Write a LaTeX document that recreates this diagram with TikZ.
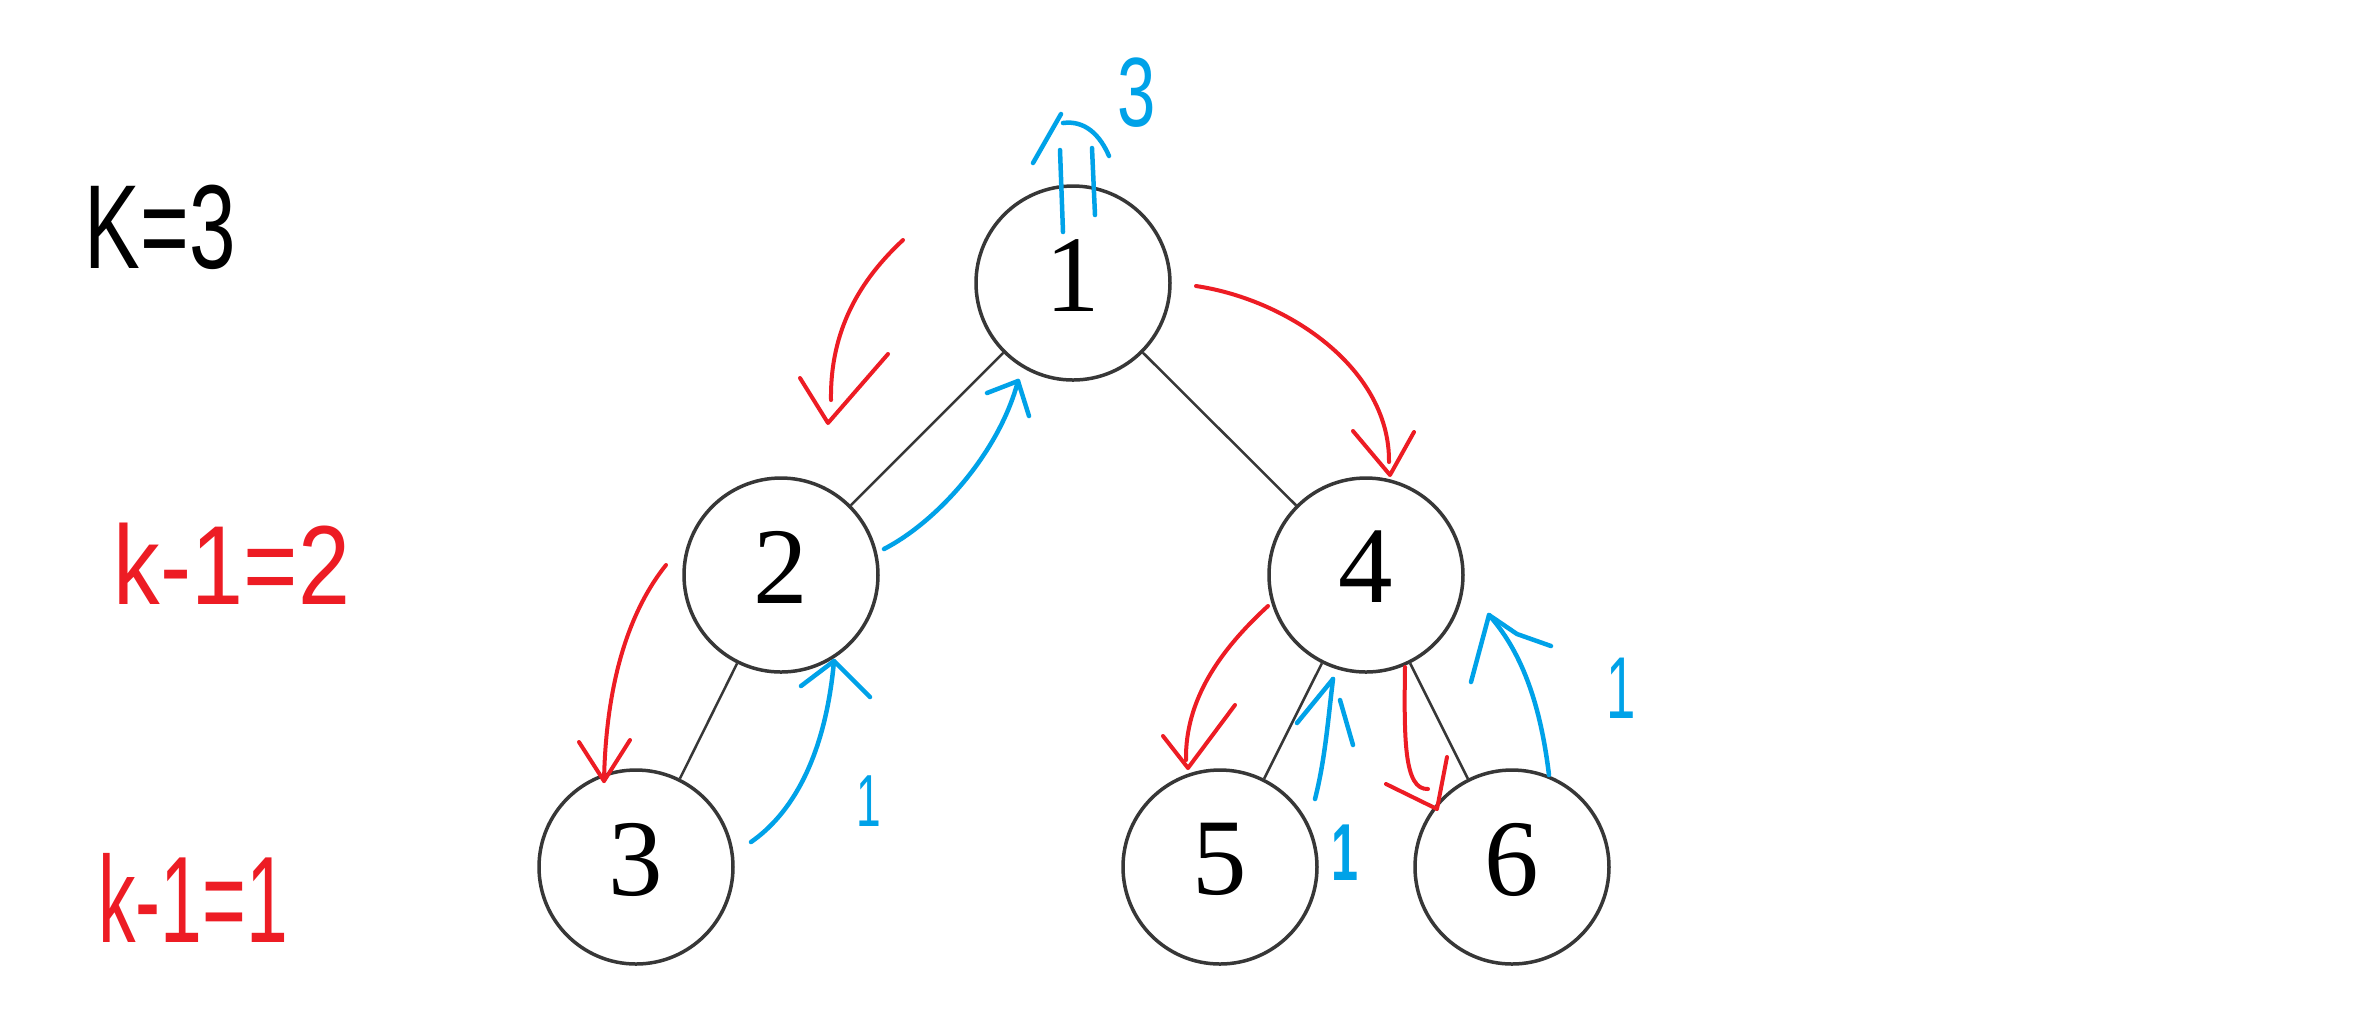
\documentclass[tikz,border=0pt]{standalone}
\usepackage{fontspec}
\setmainfont{Liberation Serif}
\newfontfamily\hand{Liberation Sans}
\definecolor{penred}{RGB}{237,28,36}
\definecolor{penblue}{RGB}{0,162,232}
\definecolor{treegray}{RGB}{55,55,55}
\begin{document}
\begin{tikzpicture}[x=0.1mm,y=-0.1mm,
  tnode/.style={circle,draw=treegray,line width=0.35mm,minimum size=19.4mm,inner sep=0pt,
    font=\fontsize{31}{36}\selectfont,text depth=4.5pt},
  tedge/.style={draw=treegray,line width=0.25mm},
  redpen/.style={draw=penred,line width=0.4mm,line cap=round,line join=round},
  bluepen/.style={draw=penblue,line width=0.45mm,line cap=round,line join=round},
  handtext/.style={inner sep=0pt,font=\hand}
]
\fill[white] (0,0) rectangle (2358,1031);
\useasboundingbox (0,0) rectangle (2358,1031);

% tree
\node[tnode] (n1) at (1073,283) {1};
\node[tnode] (n2) at (781,575) {2};
\node[tnode] (n4) at (1366,575) {4};
\node[tnode] (n3) at (636,867) {3};
\node[tnode] (n5) at (1220,867) {5};
\node[tnode] (n6) at (1512,867) {6};
\draw[tedge] (n1) -- (n2);
\draw[tedge] (n1) -- (n4);
\draw[tedge] (n2) -- (n3);
\draw[tedge] (n4) -- (n5);
\draw[tedge] (n4) -- (n6);

% labels
\node[handtext,text=black,font=\hand\fontsize{34}{40}\selectfont] (lk) at (160,227) {\scalebox{0.7}[1]{K=3}};
\node[handtext,text=penred,font=\hand\fontsize{32}{38}\selectfont] (lk2) at (232,564) {\scalebox{0.83}[1]{k-1=2}};
\node[handtext,text=penred,font=\hand\fontsize{35}{40}\selectfont] (lk1) at (193,898) {\scalebox{0.61}[1]{k-1=1}};
\node[handtext,text=penblue,font=\hand\fontsize{28}{32}\selectfont] (b3) at (1137,93) {\scalebox{0.7}[1]{3}};
\node[handtext,text=penblue,font=\hand\fontsize{21}{26}\selectfont] (b1a) at (869,801) {\scalebox{0.6}[1]{1}};
\node[handtext,text=penblue,font=\hand\bfseries\fontsize{23}{28}\selectfont] (b1b) at (1345,853) {\scalebox{0.6}[1]{1}};
\node[handtext,text=penblue,font=\hand\fontsize{25}{30}\selectfont] (b1c) at (1621,688) {\scalebox{0.6}[1]{1}};

% double arrow above node 1 (blue)
\draw[bluepen] (1060,150) -- (1063,232);
\draw[bluepen] (1092,148) -- (1095,215);
\draw[bluepen] (1033,163) -- (1061,114);
\draw[bluepen] (1063,123) .. controls (1085,120) and (1100,135) .. (1109,156);

% red arrow 1 -> 2
\coordinate (r12s) at (903,240); \coordinate (r12t) at (828,423);
\draw[redpen] (r12s) .. controls (860,280) and (830,330) .. (831,400);
\draw[redpen] (800,378) -- (r12t) -- (888,354);

% blue arrow 2 -> 1
\coordinate (b21s) at (884,549); \coordinate (b21t) at (1018,381);
\draw[bluepen] (b21s) .. controls (940,520) and (1000,450) .. (b21t);
\draw[bluepen] (987,393) -- (b21t) -- (1029,416);

% red arrow 2 -> 3
\coordinate (r23s) at (666,565); \coordinate (r23t) at (604,781);
\draw[redpen] (r23s) .. controls (630,610) and (606,680) .. (r23t);
\draw[redpen] (579,742) -- (r23t) -- (630,740);

% blue arrow 3 -> 2
\coordinate (b32s) at (751,842); \coordinate (b32t) at (834,661);
\draw[bluepen] (b32s) .. controls (790,815) and (825,760) .. (b32t);
\draw[bluepen] (801,686) -- (b32t) -- (870,697);

% red arrow 1 -> 4
\coordinate (r14s) at (1196,286); \coordinate (r14t) at (1390,475);
\draw[redpen] (r14s) .. controls (1290,300) and (1390,370) .. (1389,462);
\draw[redpen] (1353,431) -- (r14t) -- (1414,432);

% red arrow 4 -> 5
\coordinate (r45s) at (1268,606); \coordinate (r45t) at (1188,768);
\draw[redpen] (r45s) .. controls (1220,650) and (1185,700) .. (1186,760);
\draw[redpen] (1163,736) -- (r45t) -- (1235,705);

% blue arrow 5 -> 4
\coordinate (b54s) at (1315,799); \coordinate (b54t) at (1333,679);
\draw[bluepen] (b54s) .. controls (1325,760) and (1328,720) .. (b54t);
\draw[bluepen] (1297,723) -- (b54t);
\draw[bluepen] (1340,700) -- (1353,745);

% red arrow 4 -> 6
\coordinate (r46s) at (1405,667); \coordinate (r46t) at (1437,809);
\draw[redpen] (r46s) .. controls (1404,740) and (1404,790) .. (1428,789);
\draw[redpen] (1386,784) -- (r46t) -- (1447,757);

% blue arrow 6 -> 4
\coordinate (b64s) at (1549,775); \coordinate (b64t) at (1489,615);
\draw[bluepen] (b64s) .. controls (1540,700) and (1520,650) .. (b64t);
\draw[bluepen] (1471,682) -- (b64t) -- (1517,634) -- (1551,646);
\end{tikzpicture}
\end{document}
